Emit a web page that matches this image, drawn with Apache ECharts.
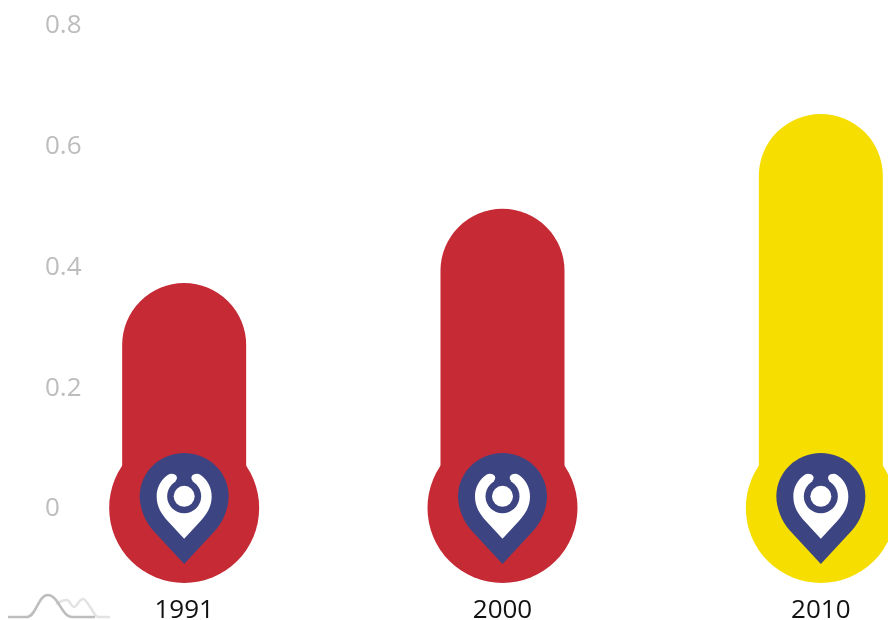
<!DOCTYPE html>
<html>
<head>
<meta charset="utf-8">
<style>
  html, body { margin: 0; padding: 0; background: #fff; overflow: hidden; }
  #chart { width: 888px; height: 620px; }
</style>
<script src="https://cdn.jsdelivr.net/npm/echarts@6/dist/echarts.min.js"></script>
</head>
<body>
<div id="chart"></div>
<script>
const years = ['1991', '2000', '2010']
const values = [0.371, 0.494, 0.651]
const barColors = ['#C52A35', '#C52A35', '#F5DE00']
const yTicks = [0, 0.2, 0.4, 0.6, 0.8]

const PIN_BLUE = '#3C4582'
const pinOuter = 'path://M133.5 333L39 231C16 206 0 165 0 130C0 58 60 0 133.5 0C207 0 267 58 267 130C267 165 251 206 228 231Z'
const pinInner = 'path://M82 194L33 141C15 120 0 100 0 67C0 42 12 18 34 3C42 -2 54 0 59 7C62 12 60 18 56 22L82 60L108 22C104 18 102 12 105 7C110 0 122 -2 130 3C152 18 164 42 164 67C164 100 149 120 131 141Z'

// every marker sits on the zero line, offset in px
function marker(symbol, size, color, offsetY, z) {
  return {
    type: 'scatter',
    data: years.map((y, i) => ({ value: [y, 0], itemStyle: { color: color || barColors[i], opacity: 1 } })),
    symbol,
    symbolSize: size,
    symbolOffset: [0, offsetY],
    silent: true,
    z,
  }
}

// little logo in the corner, [x1,y1,cp1x,cp1y,cp2x,cp2y,x2,y2]
const logoLight = [
  [56, 604, 59, 602, 63, 600, 67, 600],
  [67, 600, 70, 600, 71, 607, 74, 607],
  [74, 607, 77, 607, 79, 599, 83, 599],
  [83, 599, 87, 599, 92, 612, 97, 617],
  [97, 617, 100, 617, 105, 617, 110, 617],
]
const logoDark = [
  [8, 617, 14, 617, 20, 617, 27, 617],
  [27, 617, 36, 617, 38, 595, 48, 595],
  [48, 595, 58, 595, 62, 617, 72, 617],
  [72, 617, 80, 617, 88, 617, 95, 617],
]

function logoCurves(segments, color) {
  return segments.map(s => ({
    type: 'bezierCurve',
    silent: true,
    shape: { x1: s[0], y1: s[1], cpx1: s[2], cpy1: s[3], cpx2: s[4], cpy2: s[5], x2: s[6], y2: s[7] },
    style: { fill: null, stroke: color, lineWidth: 2.5 },
  }))
}

const chart = echarts.init(document.getElementById('chart'), null, { renderer: 'canvas' })

chart.setOption({
  backgroundColor: '#fff',
  animation: false,
  // last band runs past the right edge of the page
  grid: { left: 25, width: 955, top: 24, bottom: 113, outerBoundsMode: 'none' },
  xAxis: {
    type: 'category',
    data: years,
    axisLine: { show: false },
    axisTick: { show: false },
    axisLabel: { color: '#111', fontFamily: 'Open Sans', fontSize: 26, margin: 91 },
  },
  yAxis: {
    type: 'value',
    min: yTicks[0],
    max: yTicks[yTicks.length - 1],
    interval: 0.2,
    splitLine: { show: false },
    axisLine: { show: false },
    axisTick: { show: false },
    // small line box hung from the tick nudges the text 2px below it
    axisLabel: { inside: true, color: '#BDBDBD', fontFamily: 'Open Sans', fontSize: 26, margin: 20, align: 'left', verticalAlign: 'top', lineHeight: 4 },
  },
  series: [
    {
      type: 'bar',
      data: values.map((v, i) => ({ value: v, itemStyle: { color: barColors[i] } })),
      barWidth: 124,
      itemStyle: { borderRadius: [62, 62, 0, 0] },
      z: 2,
    },
    marker('circle', 150, null, 1, 3),
    marker(pinOuter, [89, 111], PIN_BLUE, 1.5, 4),
    marker(pinInner, [55, 65], '#fff', -0.7, 5),
    marker('circle', 34, PIN_BLUE, -10.7, 6),
    marker('circle', 21, '#fff', -10.7, 7),
  ],
  graphic: logoCurves(logoLight, '#E3E3E3').concat(logoCurves(logoDark, '#BDBDBD')),
})
</script>
</body>
</html>
